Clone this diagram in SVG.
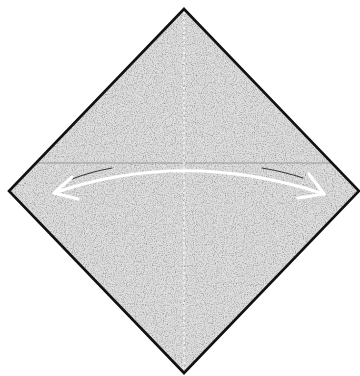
<svg xmlns="http://www.w3.org/2000/svg" width="360" height="376" viewBox="0 0 360 376">
<defs>
<filter id="grain" x="0" y="0" width="100%" height="100%" filterUnits="userSpaceOnUse">
<feTurbulence type="fractalNoise" baseFrequency="0.9" numOctaves="2" seed="4" result="n"/>
<feColorMatrix in="n" type="matrix" values="0 0 0 0 0  0 0 0 0 0  0 0 0 0 0  0 0 0 -2.4 1.35" result="a"/>
<feFlood flood-color="#9a9a9a" result="c"/>
<feComposite in="c" in2="a" operator="in" result="dots"/>
<feComposite in="dots" in2="SourceGraphic" operator="in" result="d2"/>
<feMerge><feMergeNode in="SourceGraphic"/><feMergeNode in="d2"/></feMerge>
</filter>
<clipPath id="sq"><polygon points="184,9 359,191 184,373 9,191"/></clipPath>
<style>
.paper{fill:#dedede}
.edge{fill:none;stroke:#111;stroke-width:2.6;stroke-linejoin:miter}
.crease{stroke:#999;stroke-width:1;fill:none}
.valley{stroke:#f6f6f6;stroke-width:1.5;stroke-dasharray:2 3;fill:none}
.arrow{fill:none;stroke:#fff;stroke-width:3.2;stroke-linecap:round;stroke-linejoin:round}
.shadow{fill:none;stroke:#3a3a3a;stroke-width:1.2;stroke-linecap:round}
</style>
</defs>
<g id="paper">
<polygon class="paper" points="184,9 359,191 184,373 9,191" filter="url(#grain)"/>
</g>
<g id="creases" clip-path="url(#sq)">
<line class="crease" x1="38" y1="163" x2="338" y2="163"/>
<line class="valley" x1="184" y1="12" x2="184" y2="370"/>
</g>
<g id="outline">
<polygon class="edge" points="184,9 359,191 184,373 9,191"/>
</g>
<g id="connectors">
<path class="shadow" d="M72,179 Q90,172 112,168"/>
<path class="shadow" d="M262,168 Q285,172 303,178"/>
<path class="arrow" d="M54,193 Q184,148 324,194"/>
<path class="arrow" d="M72,177 L54,193 L78,199"/>
<path class="arrow" d="M309,174 L324,194 L298,198"/>
</g>
</svg>
